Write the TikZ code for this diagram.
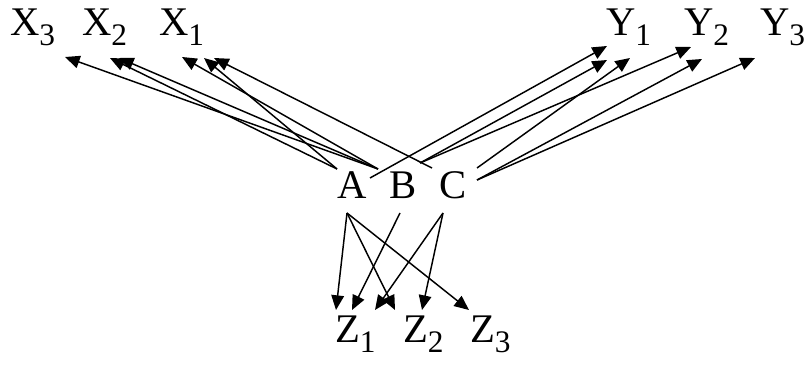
\documentclass[tikz,border=0pt]{standalone}
\usepackage{fontspec}
\setmainfont{Liberation Serif}
\usetikzlibrary{arrows.meta}
\newcommand\lbl[2]{#1\raisebox{-7.5pt}{\fontsize{23.5}{24}\selectfont #2}}
\begin{document}
\begin{tikzpicture}[x=0.75pt,y=-0.75pt,
  lab/.style={anchor=base west,inner sep=0pt,outer sep=0pt,font=\fontsize{30.5}{32}\selectfont},
  arr/.style={line width=1.1pt,-{Triangle[length=11pt,width=9.5pt]}}]
\useasboundingbox (0,0) rectangle (805,367);
% labels
\node[lab] (X3) at (10,36) {\lbl{X}{3}};
\node[lab] (X2) at (82,36) {\lbl{X}{2}};
\node[lab] (X1) at (159,36) {\lbl{X}{1}};
\node[lab] (Y1) at (606,36) {\lbl{Y}{1}};
\node[lab] (Y2) at (684,36) {\lbl{Y}{2}};
\node[lab] (Y3) at (760,36) {\lbl{Y}{3}};
\node[lab] (A) at (337,198) {A};
\node[lab] (B) at (389,198) {B};
\node[lab] (C) at (439,198) {C};
\node[lab] (Z1) at (335,342) {\lbl{Z}{1}};
\node[lab] (Z2) at (403,342) {\lbl{Z}{2}};
\node[lab] (Z3) at (470,342) {\lbl{Z}{3}};
% connector end points
\coordinate (ax) at (337,169);
\coordinate (bx) at (378,169);
\coordinate (cx) at (432,168);
\coordinate (ay) at (370,178);
\coordinate (by) at (420,163);
\coordinate (cy1) at (477,168);
\coordinate (cy2) at (477,180);
\coordinate (az) at (347,213);
\coordinate (bz) at (400,213);
\coordinate (cz) at (443,213);
\coordinate (x3t) at (65,57);
\coordinate (x2a) at (110,58);
\coordinate (x2b) at (119,58);
\coordinate (x1a) at (182,57);
\coordinate (x1b) at (204,58);
\coordinate (x1c) at (214,58);
\coordinate (y1a) at (607,46);
\coordinate (y1b) at (607,60);
\coordinate (y1c) at (630,58);
\coordinate (y2a) at (691,47);
\coordinate (y2b) at (702,59);
\coordinate (y3t) at (755,58);
\coordinate (z1a) at (336,310);
\coordinate (z1b) at (352,310);
\coordinate (z1c) at (375,310);
\coordinate (z2a) at (395,310);
\coordinate (z2b) at (422,310);
\coordinate (z3t) at (469,310);
% X connectors
\draw[arr] (bx) -- (x3t);
\draw[arr] (bx) -- (x2b);
\draw[arr] (bx) -- (x1a);
\draw[arr] (ax) -- (x2a);
\draw[arr] (ax) -- (x1b);
\draw[arr] (cx) -- (x1c);
% Y connectors
\draw[arr] (ay) -- (y1a);
\draw[arr] (by) -- (y1b);
\draw[arr] (by) -- (y2a);
\draw[arr] (cy1) -- (y1c);
\draw[arr] (cy2) -- (y2b);
\draw[arr] (cy2) -- (y3t);
% Z connectors
\draw[arr] (az) -- (z1a);
\draw[arr] (az) -- (z2a);
\draw[arr] (az) -- (z3t);
\draw[arr] (bz) -- (z1b);
\draw[arr] (cz) -- (z1c);
\draw[arr] (cz) -- (z2b);
\end{tikzpicture}
\end{document}
